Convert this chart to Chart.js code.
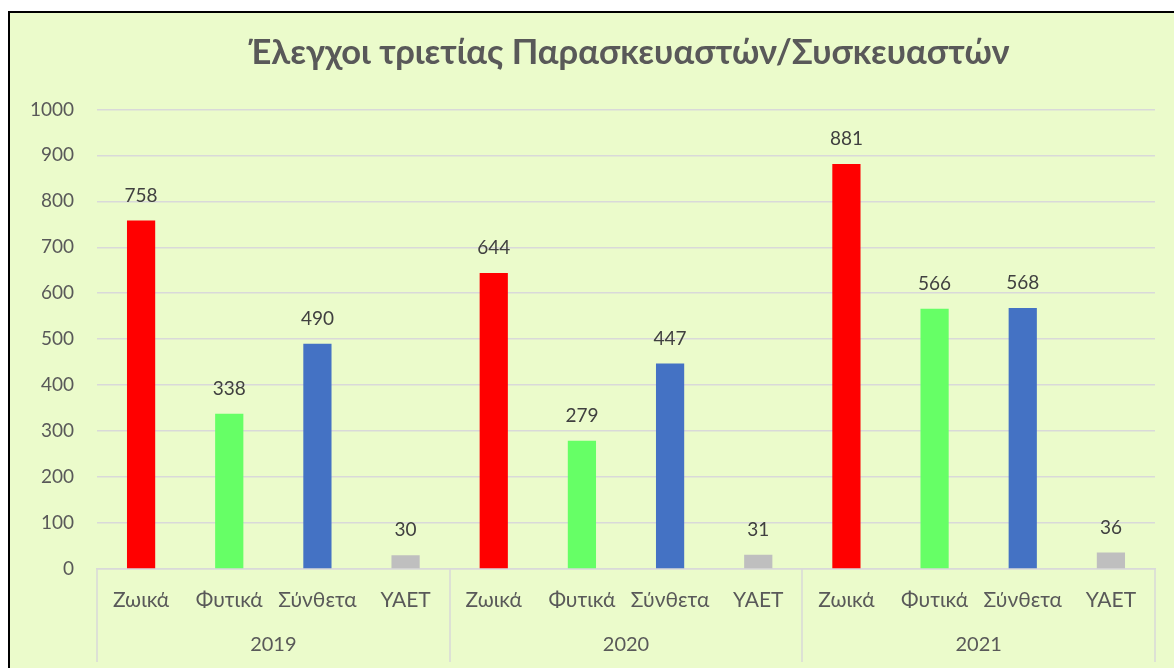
<!DOCTYPE html>
<html lang="el">
<head>
  <meta charset="UTF-8" />
  <title>Έλεγχοι τριετίας</title>
  <script src="https://cdn.jsdelivr.net/npm/chart.js"></script>
  <style>
    html, body { margin: 0; padding: 0; background: #fff; overflow: hidden; width: 1174px; height: 668px; }
    #frame { position: absolute; left: 8px; top: 11px; width: 1300px; height: 800px; border: 2px solid #000; background: #EBFBCB; box-sizing: border-box; }
    #wrap { position: absolute; left: 0; top: 0; width: 1258px; height: 668px; }
  </style>
</head>
<body>
  <div id="frame"></div>
  <div id="wrap"><canvas id="chart"></canvas></div>

  <script>
    // data
    const years = ["2019", "2020", "2021"];
    const types = ["Ζωικά", "Φυτικά", "Σύνθετα", "ΥΑΕΤ"];
    const values2019 = [758, 338, 490, 30];
    const values2020 = [644, 279, 447, 31];
    const values2021 = [881, 566, 568, 36];
    const typeColors = ["#FF0000", "#66FF66", "#4472C4", "#BFBFBF"];
    const yTicks = [0, 100, 200, 300, 400, 500, 600, 700, 800, 900, 1000];

    const labels = [];
    const values = [];
    const colors = [];
    [values2019, values2020, values2021].forEach(vals => {
      vals.forEach((v, i) => {
        labels.push(types[i]);
        values.push(v);
        colors.push(typeColors[i]);
      });
    });

    const FONT = "Lato, 'Open Sans', sans-serif";

    // value labels above bars
    const valueLabels = {
      id: "valueLabels",
      afterDatasetsDraw(chart) {
        const ctx = chart.ctx;
        const meta = chart.getDatasetMeta(0);
        ctx.save();
        ctx.font = "19px " + FONT;
        ctx.fillStyle = "#404040";
        ctx.textAlign = "center";
        ctx.textBaseline = "middle";
        meta.data.forEach((bar, i) => {
          ctx.fillText(String(values[i]), bar.x, bar.y - 25);
        });
        ctx.restore();
      }
    };

    // group separators spanning both category rows
    const groupLines = {
      id: "groupLines",
      afterDraw(chart) {
        const x = chart.scales.x;
        const x2 = chart.scales.x2;
        const ctx = chart.ctx;
        const half = (x2.getPixelForValue(1) - x2.getPixelForValue(0)) / 2;
        ctx.save();
        ctx.strokeStyle = "#D9D9D9";
        ctx.lineWidth = 1.5;
        for (let g = 0; g <= years.length; g++) {
          const px = Math.round(x2.getPixelForValue(0) - half + g * 2 * half);
          ctx.beginPath();
          ctx.moveTo(px, x.top);
          ctx.lineTo(px, x2.bottom);
          ctx.stroke();
        }
        ctx.restore();
      }
    };

    new Chart(document.getElementById("chart"), {
      type: "bar",
      data: {
        labels: labels,
        datasets: [{
          data: values,
          backgroundColor: colors,
          categoryPercentage: 1,
          barPercentage: 0.32
        }]
      },
      options: {
        responsive: true,
        maintainAspectRatio: false,
        animation: false,
        layout: { padding: { left: 0, right: 0, top: 0, bottom: 6 } },
        plugins: {
          legend: { display: false },
          tooltip: { enabled: false },
          title: {
            display: true,
            text: "Έλεγχοι τριετίας Παρασκευαστών/Συσκευαστών",
            color: "#595959",
            font: { family: FONT, size: 34.5, weight: "bold" },
            padding: { top: 32, bottom: 36 }
          }
        },
        scales: {
          y: {
            min: 0,
            max: 1000,
            afterBuildTicks(scale) { scale.ticks = yTicks.map(v => ({ value: v })); },
            afterFit(scale) { scale.width = 97; },
            grid: { color: "#D9D9D9", lineWidth: 1.5, drawTicks: false },
            border: { display: false },
            ticks: { color: "#595959", font: { family: FONT, size: 19 }, padding: 23, callback: v => String(v) }
          },
          // empty right-hand space so the title centres like the original
          yr: {
            position: "right",
            display: true,
            grid: { display: false, drawTicks: false },
            border: { display: false },
            ticks: { display: false },
            afterFit(scale) { scale.width = 103; }
          },
          x: {
            grid: { display: false, drawTicks: false },
            border: { display: true, color: "#D9D9D9", width: 1.5 },
            afterFit(scale) { scale.height = 52; },
            ticks: { color: "#595959", font: { family: FONT, size: 21 }, padding: 19, maxRotation: 0, autoSkip: false }
          },
          x2: {
            type: "category",
            labels: years,
            position: "bottom",
            offset: true,
            grid: { display: false, drawTicks: false },
            border: { display: false },
            afterFit(scale) { scale.height = 41; },
            ticks: { color: "#595959", font: { family: FONT, size: 20 }, padding: 12, maxRotation: 0 }
          }
        }
      },
      plugins: [valueLabels, groupLines]
    });
  </script>
</body>
</html>
